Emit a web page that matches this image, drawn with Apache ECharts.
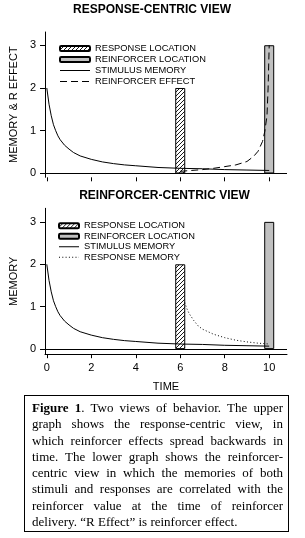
<!DOCTYPE html>
<html>
<head>
<meta charset="utf-8">
<script src="https://cdn.jsdelivr.net/npm/echarts@6/dist/echarts.min.js"></script>
<style>
    html, body {
        margin: 0;
        padding: 0;
        background: #fff;
    }
    #wrap {
        position: relative;
        width: 305px;
        height: 538px;
    }
    #chart {
        position: absolute;
        left: 0;
        top: 0;
        width: 305px;
        height: 538px;
    }
    .caption {
        position: absolute;
        left: 24px;
        top: 395px;
        width: 265px;
        height: 137px;
        box-sizing: border-box;
        border: 1px solid #000;
        padding: 4px 5px 0 7px;
        font-family: "Liberation Serif", "DejaVu Serif", serif;
        font-size: 13px;
        line-height: 16.3px;
        color: #000;
    }
    .caption div {
        text-align: justify;
        text-align-last: justify;
        white-space: nowrap;
    }
    .caption div.last {
        text-align: left;
        text-align-last: left;
    }
</style>
</head>
<body>
<div id="wrap">
    <div id="chart"></div>
    <div class="caption">
        <div><b>Figure 1</b>. Two views of behavior. The upper</div>
        <div>graph shows the response-centric view, in</div>
        <div>which reinforcer effects spread backwards in</div>
        <div>time. The lower graph shows the reinforcer-</div>
        <div>centric view in which the memories of both</div>
        <div>stimuli and responses are correlated with the</div>
        <div>reinforcer value at the time of reinforcer</div>
        <div class="last">delivery. “R Effect” is reinforcer effect.</div>
    </div>
</div>
<script>
    // bars: response at 6, reinforcer at 10
    const responseBar = [[6, 2]];
    const reinforcerBar = [[10, 3]];

    // stimulus memory (same curve in both panels)
    const stimTime = [0, 0.1, 0.2, 0.3, 0.4, 0.5, 0.6, 0.8, 1, 1.2, 1.5, 2, 2.5, 3, 3.5, 4, 5, 6, 7, 8, 9, 10];
    const stimMemory = [2.0, 1.62, 1.35, 1.14, 1.0, 0.88, 0.79, 0.66, 0.57, 0.49, 0.41, 0.33, 0.27, 0.23, 0.2, 0.18, 0.14, 0.12, 0.11, 0.09, 0.08, 0.07];

    // reinforcer effect (upper panel, dashed)
    const effectTime = [6, 6.5, 7, 7.5, 8, 8.5, 9, 9.3, 9.5, 9.7, 9.8, 9.9, 9.95, 10];
    const reinforcerEffect = [0.05, 0.07, 0.09, 0.12, 0.16, 0.2, 0.28, 0.4, 0.52, 0.75, 0.98, 1.35, 2.0, 3.0];

    // response memory (lower panel, dotted)
    const respTime = [6.2, 6.3, 6.4, 6.6, 6.8, 7, 7.5, 8, 8.5, 9, 9.5, 10];
    const responseMemory = [1.1, 0.95, 0.84, 0.68, 0.55, 0.47, 0.35, 0.27, 0.21, 0.17, 0.14, 0.12];

    const xTicks = [0, 2, 4, 6, 8, 10];
    const yTicks = [0, 1, 2, 3];

    const zip = (xs, ys) => xs.map((x, i) => [x, ys[i]]);

    function hatch() {
        const c = document.createElement('canvas');
        c.width = 4;
        c.height = 4;
        const g = c.getContext('2d');
        g.fillStyle = '#fff';
        g.fillRect(0, 0, 4, 4);
        g.strokeStyle = '#000';
        g.lineWidth = 0.9;
        g.beginPath();
        g.moveTo(0, 4); g.lineTo(4, 0);
        g.moveTo(-1, 1); g.lineTo(1, -1);
        g.moveTo(3, 5); g.lineTo(5, 3);
        g.stroke();
        return c;
    }
    const hatchFill = {image: hatch(), repeat: 'repeat'};

    const font = 'Liberation Sans';

    function xAxis(gridIndex, labels) {
        return {
            type: 'value',
            gridIndex: gridIndex,
            min: -0.08,
            max: 10.8,
            axisLine: {show: gridIndex === 1, onZero: false, lineStyle: {color: '#000', width: 1}},
            axisTick: {show: true, customValues: xTicks, length: 4, lineStyle: {color: '#000'}},
            axisLabel: {show: labels, customValues: xTicks, margin: 8, color: '#000', fontSize: 11, fontFamily: font},
            splitLine: {show: false},
            name: labels ? 'TIME' : '',
            nameLocation: 'middle',
            nameGap: 27,
            nameTextStyle: {color: '#000', fontSize: 11, fontFamily: font}
        };
    }

    function yAxis(gridIndex, min, max, name) {
        return {
            type: 'value',
            gridIndex: gridIndex,
            min: min,
            max: max,
            axisLine: {show: true, onZero: false, lineStyle: {color: '#000', width: 1}},
            axisTick: {show: true, customValues: yTicks, length: 5, lineStyle: {color: '#000'}},
            axisLabel: {customValues: yTicks, margin: 9, color: '#000', fontSize: 11, fontFamily: font},
            splitLine: {show: false},
            name: name,
            nameLocation: 'middle',
            nameGap: 20,
            nameTextStyle: {color: '#000', fontSize: 11, fontFamily: font}
        };
    }

    const zeroLine = {
        silent: true,
        symbol: 'none',
        label: {show: false},
        lineStyle: {color: '#000', width: 1, type: 'solid'},
        data: [{yAxis: 0}]
    };

    function barSeries(name, data, color, xi) {
        return {
            name: name,
            type: 'bar',
            xAxisIndex: xi,
            yAxisIndex: xi,
            barWidth: 10,
            barGap: '-100%',
            data: data,
            itemStyle: {color: color, borderColor: '#000', borderWidth: 1}
        };
    }

    function lineSeries(name, data, dash, xi, mark) {
        const s = {
            name: name,
            type: 'line',
            xAxisIndex: xi,
            yAxisIndex: xi,
            symbol: 'none',
            data: data,
            z: 3,
            lineStyle: {color: '#000', width: 1, type: dash},
            itemStyle: {color: '#000'}
        };
        if (mark) s.markLine = zeroLine;
        return s;
    }

    // line entries in the legend: keep the line, hide the round marker
    const lineItem = name => ({name: name, itemStyle: {color: 'rgba(0,0,0,0)', borderColor: 'rgba(0,0,0,0)', borderWidth: 0}});

    const legendText = {color: '#000', fontSize: 9.3, fontFamily: font, lineHeight: 11};

    const chart = echarts.init(document.getElementById('chart'));
    chart.setOption({
        animation: false,
        backgroundColor: '#fff',
        graphic: [
            {
                type: 'text', x: 152, y: 9.5,
                style: {text: 'RESPONSE-CENTRIC VIEW', align: 'center', verticalAlign: 'middle',
                    font: 'bold 12px "Liberation Sans"', fill: '#000'}
            },
            {
                type: 'text', x: 164.5, y: 196,
                style: {text: 'REINFORCER-CENTRIC VIEW', align: 'center', verticalAlign: 'middle',
                    font: 'bold 12px "Liberation Sans"', fill: '#000'}
            }
        ],
        legend: [
            {
                left: 54, top: 38, orient: 'vertical',
                itemWidth: 30, itemHeight: 5, itemGap: 0,
                selectedMode: false,
                lineStyle: {width: 1},
                textStyle: legendText,
                data: ['RESPONSE LOCATION', 'REINFORCER LOCATION', lineItem('STIMULUS MEMORY'), lineItem('REINFORCER EFFECT')]
            },
            {
                left: 53, top: 215.5, orient: 'vertical',
                itemWidth: 20, itemHeight: 5, itemGap: 0,
                selectedMode: false,
                lineStyle: {width: 1},
                textStyle: Object.assign({}, legendText, {lineHeight: 10.5}),
                data: ['RESPONSE LOCATION', 'REINFORCER LOCATION', lineItem('STIMULUS MEMORY'), lineItem('RESPONSE MEMORY')]
            }
        ],
        grid: [
            {left: 37.5, right: 18, top: 32, height: 145.3},
            {left: 37.5, right: 18, top: 208.3, height: 145.9}
        ],
        xAxis: [xAxis(0, false), xAxis(1, true)],
        yAxis: [yAxis(0, -0.09, 3.31, 'MEMORY & R EFFECT'), yAxis(1, -0.12, 3.32, 'MEMORY')],
        series: [
            barSeries('RESPONSE LOCATION', responseBar, hatchFill, 0),
            barSeries('REINFORCER LOCATION', reinforcerBar, '#c0c0c0', 0),
            lineSeries('STIMULUS MEMORY', zip(stimTime, stimMemory), 'solid', 0, true),
            lineSeries('REINFORCER EFFECT', zip(effectTime, reinforcerEffect), [7, 4], 0, false),
            barSeries('RESPONSE LOCATION', responseBar, hatchFill, 1),
            barSeries('REINFORCER LOCATION', reinforcerBar, '#c0c0c0', 1),
            lineSeries('STIMULUS MEMORY', zip(stimTime, stimMemory), 'solid', 1, true),
            lineSeries('RESPONSE MEMORY', zip(respTime, responseMemory), [1, 2.3], 1, false)
        ]
    });
</script>
</body>
</html>
